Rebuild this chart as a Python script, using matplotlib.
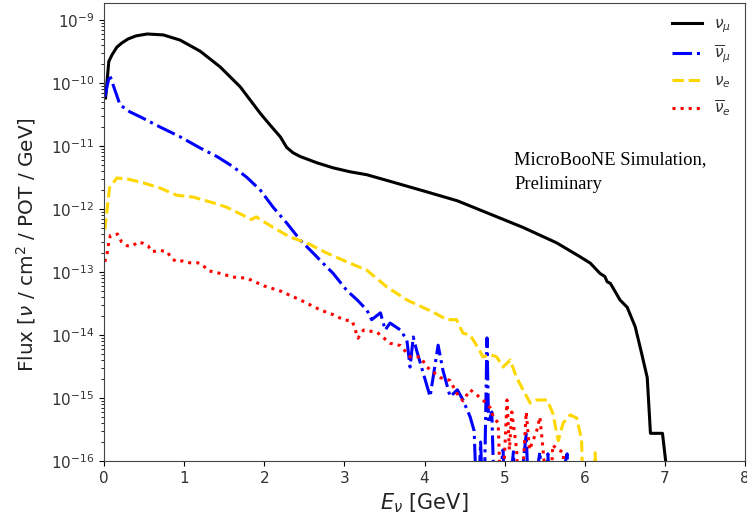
import matplotlib
matplotlib.use("Agg")
import matplotlib.pyplot as plt

# energies [GeV] and flux values
e_numu = [0.02, 0.06, 0.10, 0.16, 0.22, 0.30, 0.40, 0.54, 0.74, 0.95, 1.20, 1.45,
          1.70, 1.95, 2.08, 2.20, 2.28, 2.36, 2.45, 2.66, 2.86, 3.07, 3.28, 3.57,
          3.98, 4.41, 4.82, 5.23, 5.65, 5.94, 6.07, 6.19, 6.25, 6.28, 6.32, 6.44,
          6.53, 6.63, 6.71, 6.78, 6.82, 6.97, 7.03]
f_numu = [5.8e-11, 2.2e-10, 2.8e-10, 3.7e-10, 4.3e-10, 5.0e-10, 5.6e-10, 6.0e-10,
          5.8e-10, 4.8e-10, 3.2e-10, 1.8e-10, 8.7e-11, 3.3e-11, 2.1e-11, 1.4e-11,
          9.5e-12, 7.8e-12, 6.8e-12, 5.4e-12, 4.5e-12, 3.9e-12, 3.5e-12, 2.75e-12,
          1.95e-12, 1.35e-12, 8.3e-13, 5.1e-13, 2.9e-13, 1.75e-13, 1.38e-13, 9.5e-14,
          8.5e-14, 7.0e-14, 6.6e-14, 3.6e-14, 2.75e-14, 1.35e-14, 5.1e-15, 2.1e-15,
          2.75e-16, 2.75e-16, 6e-17]

e_numubar = [0.01, 0.07, 0.20, 0.32, 0.49, 0.70, 0.95, 1.20, 1.41, 1.61, 1.78, 1.95,
             2.11, 2.28, 2.45, 2.61, 2.78, 2.86, 3.03, 3.16, 3.28, 3.34, 3.45, 3.51,
             3.57, 3.70, 3.78, 3.82, 3.86, 3.90, 4.07, 4.17, 4.23, 4.32, 4.41, 4.48,
             4.57, 4.62, 4.66, 4.70, 4.74, 4.78, 4.80, 4.84, 4.88, 4.98, 5.02, 5.11,
             5.15, 5.27, 5.31, 5.44, 5.50, 5.54, 5.58, 5.78, 5.82]
f_numubar = [6.0e-11, 1.35e-10, 4.5e-11, 3.5e-11, 2.75e-11, 2.0e-11, 1.4e-11, 9.3e-12,
             6.8e-12, 4.7e-12, 3.2e-12, 2.0e-12, 1.07e-12, 6.0e-13, 3.2e-13, 2.0e-13,
             1.2e-13, 9.5e-14, 5.1e-14, 3.6e-14, 2.5e-14, 1.75e-14, 2.25e-14, 1.2e-14,
             1.55e-14, 1.2e-14, 8.3e-15, 3.1e-15, 9.3e-15, 5.8e-15, 1.05e-15, 6.9e-15,
             2.75e-15, 1.05e-15, 1.35e-15, 9.3e-16, 5.0e-16, 3.0e-16, 1e-17, 2.0e-16,
             1e-17, 9.0e-15, 4.0e-16, 6.0e-16, 1e-17, 1.5e-16, 1e-17, 1.4e-16,
             1e-17, 2.7e-16, 1e-17, 1.4e-16, 1e-17, 1.3e-16, 1e-17, 1.3e-16, 1e-17]

e_nue = [0.01, 0.07, 0.16, 0.29, 0.49, 0.70, 0.91, 1.11, 1.32, 1.53, 1.74, 1.84,
         1.90, 2.11, 2.32, 2.53, 2.78, 3.03, 3.28, 3.53, 3.78, 4.11, 4.28, 4.40,
         4.48, 4.57, 4.66, 4.73, 4.82, 4.90, 4.98, 5.07, 5.15, 5.23, 5.32, 5.40,
         5.53, 5.60, 5.67, 5.73, 5.82, 5.90, 5.96, 5.99, 6.09, 6.13, 6.16]
f_nue = [4.7e-13, 2.2e-12, 3.1e-12, 3.0e-12, 2.6e-12, 2.15e-12, 1.65e-12, 1.55e-12,
         1.3e-12, 1.07e-12, 7.9e-13, 6.8e-13, 7.5e-13, 5.1e-13, 3.6e-13, 2.9e-13,
         2.0e-13, 1.45e-13, 1.07e-13, 5.8e-14, 3.6e-14, 2.3e-14, 1.75e-14, 1.75e-14,
         1.07e-14, 1.0e-14, 6.5e-15, 4.5e-15, 4.9e-15, 4.5e-15, 3.1e-15, 4.0e-15,
         2.1e-15, 1.35e-15, 8.3e-16, 9.3e-16, 9.3e-16, 5.8e-16, 2.1e-16, 4.0e-16,
         5.4e-16, 4.8e-16, 2.2e-16, 1e-17, 1e-17, 1.35e-16, 1e-17]

e_nuebar = [0.01, 0.04, 0.06, 0.08, 0.17, 0.22, 0.29, 0.36, 0.42, 0.49, 0.55, 0.60,
            0.70, 0.79, 0.84, 0.91, 0.98, 1.07, 1.17, 1.23, 1.30, 1.45, 1.61, 1.78,
            2.00, 2.20, 2.45, 2.70, 2.86, 2.99, 3.10, 3.17, 3.24, 3.41, 3.57, 3.70,
            3.82, 3.95, 4.03, 4.20, 4.32, 4.40, 4.48, 4.57, 4.66, 4.73, 4.82, 4.86,
            4.92, 4.96, 5.03, 5.06, 5.09, 5.15, 5.19, 5.27, 5.31, 5.40, 5.44, 5.48,
            5.56, 5.60, 5.66, 5.73, 5.77]
f_nuebar = [1.45e-13, 2.0e-13, 3.0e-13, 3.8e-13, 4.0e-13, 3.0e-13, 2.6e-13, 2.6e-13,
            3.0e-13, 2.85e-13, 2.6e-13, 2.1e-13, 2.2e-13, 2.1e-13, 1.65e-13, 1.45e-13,
            1.5e-13, 1.4e-13, 1.4e-13, 1.3e-13, 1.05e-13, 9.5e-14, 8.3e-14, 8.0e-14,
            6.0e-14, 5.0e-14, 3.6e-14, 2.5e-14, 2.1e-14, 1.75e-14, 1.65e-14, 8.9e-15,
            1.2e-14, 1.1e-14, 7.4e-15, 6.8e-15, 4.5e-15, 4.5e-15, 3.1e-15, 2.1e-15,
            1.9e-15, 1.2e-15, 9.0e-16, 1.35e-15, 1.1e-15, 9.3e-16, 7.0e-16, 5.0e-16,
            4.0e-16, 1e-17, 9.3e-16, 1.5e-16, 6.0e-16, 1.5e-16, 1e-17, 6.0e-16,
            1.5e-16, 3.0e-16, 5.0e-16, 1.5e-16, 1e-17, 1.8e-16, 1.5e-16, 1.4e-16, 1e-17]

fig = plt.figure(figsize=(7.47, 5.24), dpi=100)
ax = fig.add_axes([104/747, 1 - 461/524, 641/747, 458/524])

ax.plot(e_numu, f_numu, color='black', lw=2.2, ls='-', label=r'$\nu_\mu$')
ax.plot(e_numubar, f_numubar, color='blue', lw=2.2, ls='-.', label=r'$\overline{\nu}_\mu$')
ax.plot(e_nue, f_nue, color='gold', lw=2.2, ls='--', label=r'$\nu_e$')
ax.plot(e_nuebar, f_nuebar, color='red', lw=2.2, ls=':', label=r'$\overline{\nu}_e$')

ax.set_yscale('log')
ax.set_xlim(0, 8)
ax.set_ylim(1e-16, 10**-8.73)
ax.set_xticks(range(9))
ax.tick_params(labelsize=11, labelcolor='#333333')
for s in ax.spines.values():
    s.set_color('#444444')

ax.set_xlabel(r'$E_\nu$ [GeV]', fontsize=15, color='#222222')
ax.set_ylabel(r'Flux [$\nu$ / cm$^2$ / POT / GeV]', fontsize=14.4, color='#222222')
ax.yaxis.set_label_coords(-0.103, 0.472)

ax.text(0.64, 0.677, 'MicroBooNE Simulation,\nPreliminary', transform=ax.transAxes,
        family='Liberation Serif', fontsize=13.3, va='top', ha='left', linespacing=1.6)

leg = ax.legend(loc='upper right', frameon=False, fontsize=11, labelspacing=0.55)
for t in leg.get_texts():
    t.set_color('#333333')

fig.savefig('out.png', dpi=100)
